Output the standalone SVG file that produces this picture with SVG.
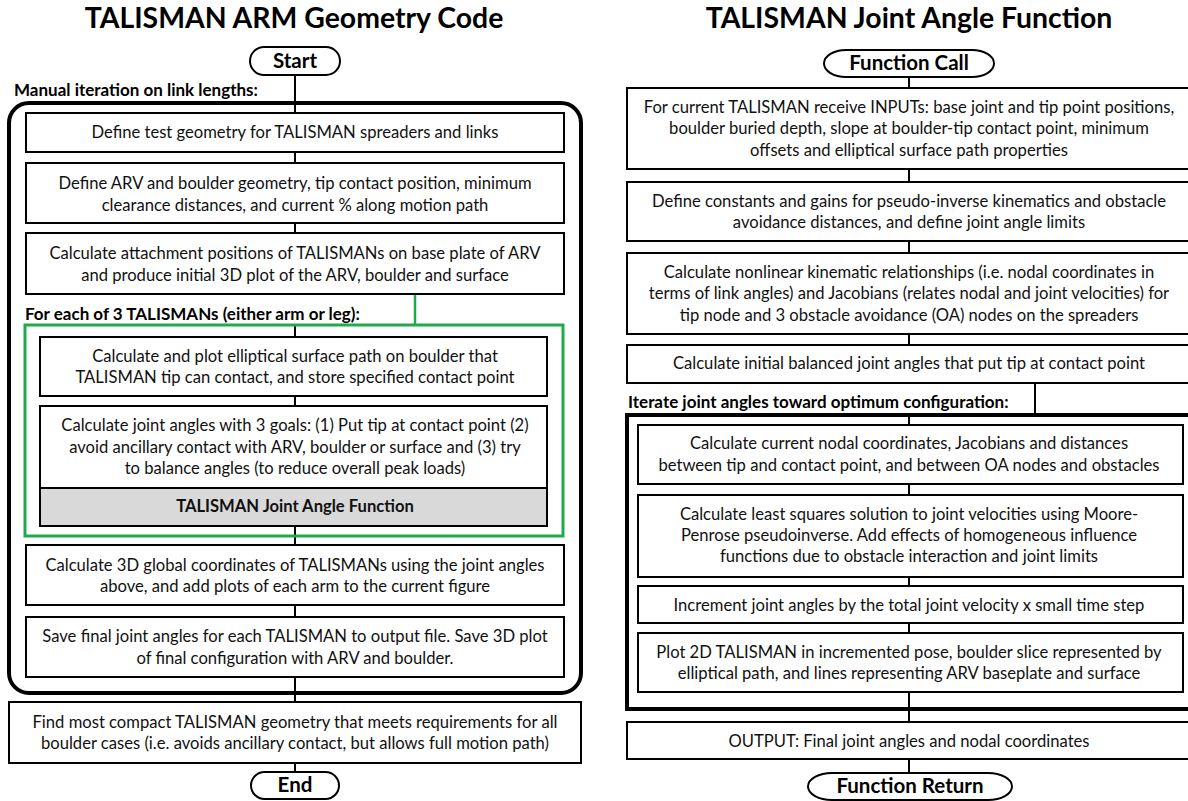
<svg xmlns="http://www.w3.org/2000/svg" width="1188" height="801" viewBox="0 0 1188 801">
<style>
.t{font-family:Lato,"Liberation Sans",sans-serif;font-size:16.6px;fill:#111;text-anchor:middle}
.b{font-family:Lato,"Liberation Sans",sans-serif;font-size:17px;font-weight:bold;fill:#000}
.h{font-family:Lato,"Liberation Sans",sans-serif;font-size:28.4px;font-weight:bold;fill:#000;text-anchor:middle}
.p{font-family:Lato,"Liberation Sans",sans-serif;font-size:20.5px;font-weight:bold;fill:#000;text-anchor:middle}
.box{fill:#fff;stroke:#000;stroke-width:2}
.pill{fill:#fff;stroke:#000;stroke-width:2}
.c{stroke:#000;stroke-width:2;fill:none}
.big{fill:none;stroke:#000;stroke-width:4}
</style>
<rect width="1188" height="801" fill="#fff"/>
<text class="h" x="294" y="28">TALISMAN ARM Geometry Code</text>
<text class="h" x="909" y="28">TALISMAN Joint Angle Function</text>
<text class="b" x="14" y="96">Manual iteration on link lengths:</text>
<text class="b" x="25" y="320">For each of 3 TALISMANs (either arm or leg):</text>
<text class="b" x="628" y="408">Iterate joint angles toward optimum configuration:</text>
<g id="connectors">
<path class="c" d="M295 75V113M295 152V163M295 223V233M295 325V337M295 396V406M295 526V545M295 605V617M295 677V702M295 763V772"/>
<path d="M415 294V325" stroke="#1faa4b" stroke-width="2.5" fill="none"/>
<path class="c" d="M909 77V88M909 169V182M909 241V253M909 334V345M1035 383V415M909 415V425M909 484V495M909 577V586M909 623V633M909 692V722M909 759V773"/>
</g>
<g id="loop-manual"><rect class="big" x="9" y="103" width="572" height="590" rx="20"/></g>
<g id="loop-talisman"><rect x="25" y="325" width="538" height="211" fill="none" stroke="#1faa4b" stroke-width="3"/></g>
<g id="loop-iterate"><rect class="big" x="627" y="415" width="570" height="294"/></g>
<g id="start"><rect class="pill" x="250" y="47" width="90" height="28" rx="14"/><text class="p" x="295" y="68">Start</text></g>
<g id="n1"><rect class="box" x="26" y="113" width="538" height="39"/><text class="t" x="295" y="138">Define test geometry for TALISMAN spreaders and links</text></g>
<g id="n2"><rect class="box" x="26" y="163" width="538" height="60"/><text class="t" x="295" y="189">Define ARV and boulder geometry, tip contact position, minimum</text><text class="t" x="295" y="211">clearance distances, and current % along motion path</text></g>
<g id="n3"><rect class="box" x="26" y="233" width="538" height="61"/><text class="t" x="295" y="259">Calculate attachment positions of TALISMANs on base plate of ARV</text><text class="t" x="295" y="281">and produce initial 3D plot of the ARV, boulder and surface</text></g>
<g id="n4"><rect class="box" x="40" y="337" width="507" height="59"/><text class="t" x="295" y="362">Calculate and plot elliptical surface path on boulder that</text><text class="t" x="295" y="383">TALISMAN tip can contact, and store specified contact point</text></g>
<g id="n5"><rect class="box" x="40" y="406" width="507" height="120"/><rect x="40" y="488" width="507" height="38" fill="#d9d9d9" stroke="#000" stroke-width="2"/><text class="t" x="295" y="431">Calculate joint angles with 3 goals: (1) Put tip at contact point (2)</text><text class="t" x="295" y="453">avoid ancillary contact with ARV, boulder or surface and (3) try</text><text class="t" x="295" y="474">to balance angles (to reduce overall peak loads)</text><text class="t" x="295" y="512" font-weight="bold" font-size="16.2">TALISMAN Joint Angle Function</text></g>
<g id="n6"><rect class="box" x="26" y="545" width="538" height="60"/><text class="t" x="295" y="571">Calculate 3D global coordinates of TALISMANs using the joint angles</text><text class="t" x="295" y="592">above, and add plots of each arm to the current figure</text></g>
<g id="n7"><rect class="box" x="26" y="617" width="538" height="60"/><text class="t" x="295" y="642">Save final joint angles for each TALISMAN to output file. Save 3D plot</text><text class="t" x="295" y="664">of final configuration with ARV and boulder.</text></g>
<g id="n8"><rect class="box" x="9" y="702" width="572" height="61"/><text class="t" x="295" y="728">Find most compact TALISMAN geometry that meets requirements for all</text><text class="t" x="295" y="749">boulder cases (i.e. avoids ancillary contact, but allows full motion path)</text></g>
<g id="end"><rect class="pill" x="251" y="772" width="88" height="27" rx="13.5"/><text class="p" x="295" y="792">End</text></g>
<g id="fcall"><rect class="pill" x="824" y="50" width="170" height="27" rx="22" ry="13.5"/><text class="p" x="909" y="70">Function Call</text></g>
<g id="r1"><rect class="box" x="627" y="88" width="570" height="81"/><text class="t" x="909" y="113">For current TALISMAN receive INPUTs: base joint and tip point positions,</text><text class="t" x="909" y="134">boulder buried depth, slope at boulder-tip  contact point, minimum</text><text class="t" x="909" y="156">offsets and elliptical surface path properties</text></g>
<g id="r2"><rect class="box" x="627" y="182" width="570" height="59"/><text class="t" x="909" y="207">Define constants and gains for pseudo-inverse kinematics and obstacle</text><text class="t" x="909" y="228">avoidance distances, and define joint angle limits</text></g>
<g id="r3"><rect class="box" x="627" y="253" width="570" height="81"/><text class="t" x="909" y="278">Calculate nonlinear kinematic relationships (i.e. nodal coordinates in</text><text class="t" x="909" y="299">terms of link angles) and Jacobians (relates nodal and joint velocities) for</text><text class="t" x="909" y="321">tip node and 3 obstacle avoidance (OA) nodes on the spreaders</text></g>
<g id="r4"><rect class="box" x="627" y="345" width="570" height="38"/><text class="t" x="909" y="369">Calculate initial balanced joint angles that put tip at contact point</text></g>
<g id="r5"><rect class="box" x="638" y="425" width="545" height="59"/><text class="t" x="909" y="449">Calculate current nodal coordinates, Jacobians and distances</text><text class="t" x="909" y="471">between tip and contact point, and between OA nodes and obstacles</text></g>
<g id="r6"><rect class="box" x="638" y="495" width="545" height="82"/><text class="t" x="909" y="520">Calculate least squares solution to joint velocities using Moore-</text><text class="t" x="909" y="541">Penrose pseudoinverse. Add effects of homogeneous  influence</text><text class="t" x="909" y="562">functions due to obstacle interaction and joint limits</text></g>
<g id="r7"><rect class="box" x="638" y="586" width="545" height="37"/><text class="t" x="909" y="611">Increment  joint angles by the total joint velocity x small time step</text></g>
<g id="r8"><rect class="box" x="638" y="633" width="545" height="59"/><text class="t" x="909" y="658">Plot  2D TALISMAN  in incremented  pose, boulder  slice represented by</text><text class="t" x="909" y="679">elliptical path, and lines representing  ARV baseplate and surface</text></g>
<g id="r9"><rect class="box" x="627" y="722" width="570" height="37"/><text class="t" x="909" y="747">OUTPUT: Final joint angles and nodal coordinates</text></g>
<g id="freturn"><rect class="pill" x="808" y="773" width="204" height="27" rx="24" ry="13.5"/><text class="p" x="910" y="793">Function Return</text></g>
</svg>
